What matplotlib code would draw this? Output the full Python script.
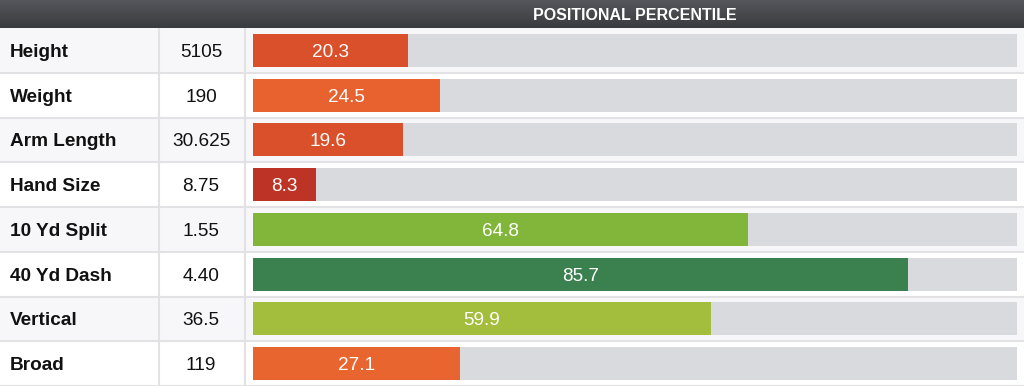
import numpy as np
import matplotlib
matplotlib.use("Agg")
import matplotlib.pyplot as plt

plt.rcParams['font.family'] = ['Liberation Sans', 'DejaVu Sans']

metrics = ['Height', 'Weight', 'Arm Length', 'Hand Size', '10 Yd Split', '40 Yd Dash', 'Vertical', 'Broad']
results = ['5105', '190', '30.625', '8.75', '1.55', '4.40', '36.5', '119']
percentiles = [20.3, 24.5, 19.6, 8.3, 64.8, 85.7, 59.9, 27.1]
bar_colors = ['#d9502a', '#e8622f', '#d9502a', '#bd3427', '#82b63a', '#3b8150', '#a3bd3c', '#e8652f']

W, H = 1024, 386
head_h = 28
n = len(metrics)
base = 0.145  # baseline offset within a row (row units)

fig = plt.figure(figsize=(W / 100, H / 100), dpi=100)
fig.patch.set_facecolor('white')

# header with gradient
hax = fig.add_axes([0, 1 - head_h / H, 1, head_h / H])
grad = np.linspace(0, 1, 50).reshape(-1, 1)
cmap = matplotlib.colors.LinearSegmentedColormap.from_list('hdr', ['#56575c', '#3a3b3f'])
hax.imshow(grad, aspect='auto', cmap=cmap, extent=[0, W, head_h, 0])
hax.set_xlim(0, W)
hax.set_ylim(head_h, 0)
hax.axis('off')
hax.text((245 + W) / 2, 20, 'POSITIONAL PERCENTILE', color='white', fontsize=11.5,
         fontweight='bold', ha='center', va='baseline')

# table body
tax = fig.add_axes([0, 0, 1, 1 - head_h / H])
tax.set_xlim(0, W)
tax.set_ylim(n - 0.5, -0.5)
tax.axis('off')
for i in range(n):
    bg = '#f7f7f9' if i % 2 == 0 else 'white'
    tax.axhspan(i - 0.5, i + 0.5, color=bg, zorder=0)
    tax.axhline(i + 0.5, color='#e2e2e5', lw=1.5, zorder=1)
    tax.text(10, i + base, metrics[i], fontsize=13.7, fontweight='bold', ha='left', va='baseline', color='#111111')
    tax.text(201, i + base, results[i], fontsize=13.7, ha='center', va='baseline', color='#111111')
tax.axvline(158.5, color='#e2e2e5', lw=1.5, zorder=1)
tax.axvline(244.5, color='#e2e2e5', lw=1.5, zorder=1)

# bars
bax = fig.add_axes([253 / W, 0, 764 / W, 1 - head_h / H])
bax.patch.set_alpha(0)
bax.set_xlim(0, 100)
bax.set_ylim(n - 0.5, -0.5)
bax.axis('off')
ypos = np.arange(n)
bh = 33 / 44.75
bax.barh(ypos, [100] * n, height=bh, color='#d9dadd', zorder=2)
bars = bax.barh(ypos, percentiles, height=bh, color=bar_colors, zorder=3)
for b, v in zip(bars, percentiles):
    bax.text(b.get_x() + b.get_width() / 2, b.get_y() + b.get_height() / 2 + base, f'{v:.1f}',
             color='white', fontsize=13.7, ha='center', va='baseline', zorder=4)

fig.savefig('out.png', dpi=100)
